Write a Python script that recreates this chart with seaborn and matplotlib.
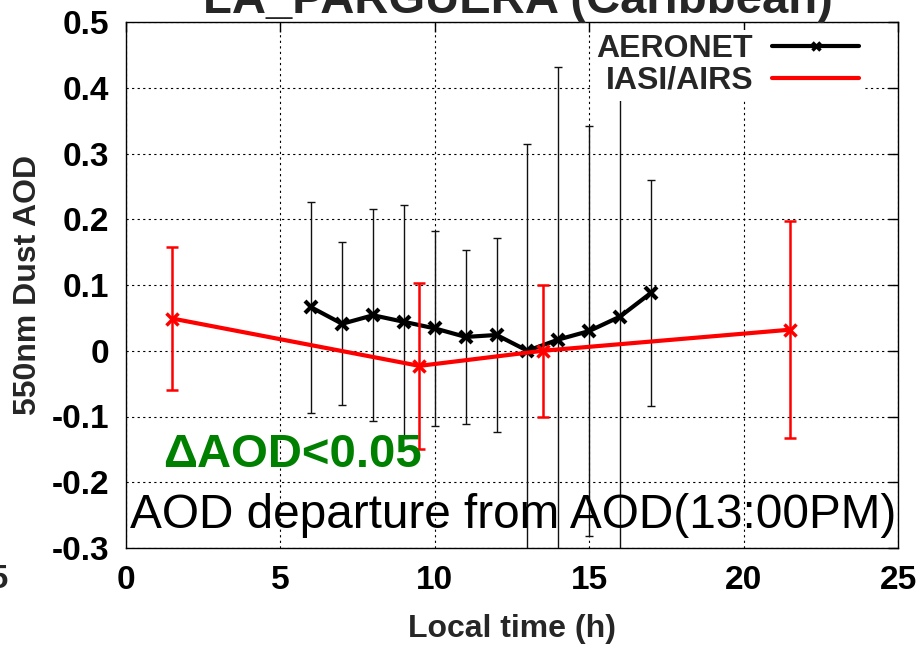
import numpy as np
import pandas as pd
import seaborn as sns
import matplotlib
matplotlib.use("Agg")
import matplotlib.pyplot as plt
from matplotlib.lines import Line2D

# AERONET hourly dust AOD departure from the 13:00 value
aeronet_hour = [6, 7, 8, 9, 10, 11, 12, 13, 14, 15, 16, 17]
aeronet_aod = [0.066, 0.041, 0.054, 0.044, 0.034, 0.021, 0.024, 0.0, 0.017, 0.030, 0.052, 0.088]
aeronet_std = [0.160, 0.124, 0.161, 0.177, 0.148, 0.132, 0.148, 0.315, 0.415, 0.312, 0.380, 0.172]

# IASI/AIRS overpass departures
iasi_hour = [1.5, 9.5, 13.5, 21.5]
iasi_aod = [0.049, -0.023, 0.0, 0.032]
iasi_std = [0.109, 0.126, 0.100, 0.165]

x_ticks = [0, 5, 10, 15, 20, 25]
y_ticks = [-0.3, -0.2, -0.1, 0.0, 0.1, 0.2, 0.3, 0.4, 0.5]
y_tick_labels = ["-0.3", "-0.2", "-0.1", "0", "0.1", "0.2", "0.3", "0.4", "0.5"]

sns.set_theme(style="white")
plt.rcParams["font.family"] = ["Liberation Sans", "DejaVu Sans"]

W, H = 922, 648
L, R, T, B = 126, 898, 22, 548
fig = plt.figure(figsize=(W / 100, H / 100), dpi=100)
ax = fig.add_axes([L / W, 1 - B / H, (R - L) / W, (B - T) / H])

df_a = pd.DataFrame({"hour": aeronet_hour, "aod": aeronet_aod, "std": aeronet_std})
df_i = pd.DataFrame({"hour": iasi_hour, "aod": iasi_aod, "std": iasi_std})

# AERONET error bars and line
ax.errorbar(df_a["hour"], df_a["aod"], yerr=df_a["std"], fmt="none",
            ecolor="#111111", elinewidth=1.0, capsize=3, capthick=1.0, zorder=3)
sns.lineplot(data=df_a, x="hour", y="aod", ax=ax, color="black", linewidth=3,
             marker="x", markersize=8, markeredgewidth=3, markeredgecolor="black",
             zorder=4, legend=False)

# IASI/AIRS error bars and line
ax.errorbar(df_i["hour"], df_i["aod"], yerr=df_i["std"], fmt="none",
            ecolor="red", elinewidth=1.8, capsize=4, capthick=1.8, zorder=5)
sns.lineplot(data=df_i, x="hour", y="aod", ax=ax, color="red", linewidth=3,
             marker="x", markersize=8, markeredgewidth=2.5, markeredgecolor="red",
             zorder=6, legend=False)

ax.set_xlim(0, 25)
ax.set_ylim(-0.3, 0.5)
ax.set_xticks(x_ticks)
ax.set_xticklabels([str(t) for t in x_ticks])
ax.set_yticks(y_ticks)
ax.set_yticklabels(y_tick_labels)

ax.grid(True, color="black", linestyle=(0, (2, 3)), linewidth=0.8)
ax.set_axisbelow(True)
for s in ax.spines.values():
    s.set_color("black")
    s.set_linewidth(1.0)
    s.set_visible(True)

ax.tick_params(axis="both", which="major", direction="in", length=7, width=1,
               top=True, right=True, labelsize=24, pad=12, colors="black")
for lab in ax.get_xticklabels() + ax.get_yticklabels():
    lab.set_fontweight("bold")

ax.set_xlabel("Local time (h)", fontsize=23, fontweight="bold", labelpad=13)
ax.set_ylabel("550nm Dust AOD", fontsize=23, fontweight="bold", labelpad=6)

# annotations inside the plot
ax.text((163 - L) / (R - L), (B - 467) / (B - T), "ΔAOD<0.05",
        transform=ax.transAxes, color="#008000", fontsize=34, fontweight="bold",
        ha="left", va="baseline", zorder=7)
ax.text((130 - L) / (R - L), (B - 528) / (B - T),
        "AOD departure from AOD(13:00PM)", transform=ax.transAxes,
        color="black", fontsize=34.4, ha="left", va="baseline", zorder=7)

# legend with text on the left
handles = [Line2D([], [], color="black", linewidth=3, marker="x", markersize=6,
                  markeredgewidth=2.5),
           Line2D([], [], color="red", linewidth=3)]
leg = ax.legend(handles, ["AERONET", "IASI/AIRS"], loc="upper right",
                bbox_to_anchor=(0.976, 1.016), markerfirst=False, frameon=True,
                framealpha=1, facecolor="white", edgecolor="none",
                prop={"weight": "bold", "size": 23}, handlelength=2.7,
                handletextpad=0.6, labelspacing=0.05, borderpad=0.15,
                fancybox=False)
leg.set_zorder(10)

fig.text(518 / W, 1 - 13 / H, "LA_PARGUERA (Caribbean)", fontsize=34,
         fontweight="bold", ha="center", va="baseline")
fig.text(9 / W, 1 - 580 / H, "25", fontsize=24, fontweight="bold",
         ha="right", va="center")

fig.savefig("out.png", dpi=100)
